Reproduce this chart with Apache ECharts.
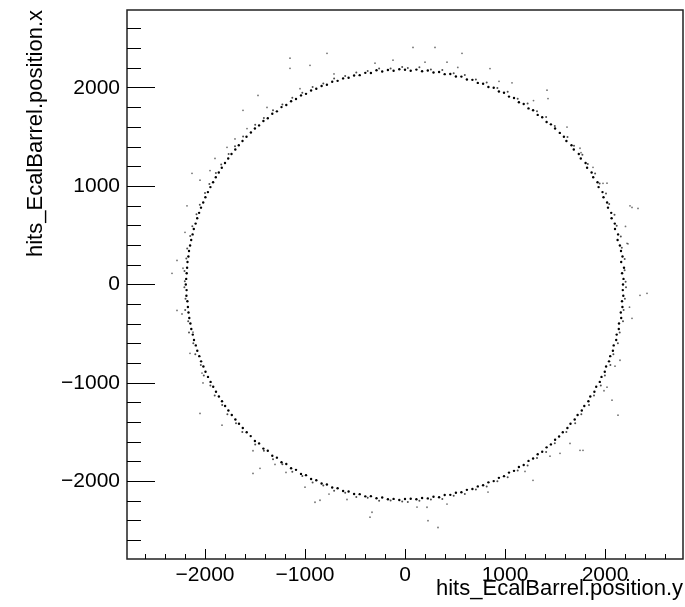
<!DOCTYPE html>
<html>
<head>
<meta charset="utf-8">
<script src="https://cdn.jsdelivr.net/npm/echarts@6/dist/echarts.min.js"></script>
<style>
html, body { margin: 0; padding: 0; background: #fff; }
#chart { width: 685px; height: 607px; }
</style>
</head>
<body>
<div id="chart"></div>
<script>
const xTitle = 'hits_EcalBarrel.position.y'
const yTitle = 'hits_EcalBarrel.position.x'
const xRange = [-2780, 2780]
const yRange = [-2790, 2790]
const majorTicks = [-2000, -1000, 0, 1000, 2000]
const minorTicks = [-2600, -2400, -2200, -1800, -1600, -1400, -1200, -800, -600, -400, -200,
  200, 400, 600, 800, 1200, 1400, 1600, 1800, 2200, 2400, 2600]

// [position.y, position.x]: the dense ring
const ringHits = [
  [2180,0],[2185,57],[2171,114],[2190,171],[2162,228],[2175,285],[2160,341],[2149,397],[2126,453],[2131,509],[2100,564],[2098,619],[2066,674],[2062,728],[2030,781],[2021,834],[1985,887],[1975,939],[1936,990],[1925,1040],[1882,1090],[1866,1139],[1821,1187],[1806,1235],[1758,1281],[1738,1327],[1688,1372],[1665,1416],[1614,1459],[1589,1501],[1548,1541],
  [1501,1585],[1459,1628],[1416,1652],[1372,1700],[1327,1724],[1281,1771],[1235,1790],[1187,1835],[1139,1853],[1090,1895],[1040,1910],[990,1949],[939,1962],[887,1999],[834,2008],[781,2041],[728,2049],[674,2080],[619,2084],[564,2113],[509,2114],[453,2139],[397,2138],[341,2160],[285,2155],[228,2175],[171,2167],[114,2184],[57,2173],
  [0,2182],[-57,2188],[-114,2172],[-171,2180],[-228,2165],[-285,2178],[-341,2150],[-397,2151],[-453,2128],[-509,2125],[-564,2102],[-619,2095],[-674,2070],[-728,2060],[-781,2031],[-834,2018],[-887,1989],[-939,1972],[-990,1938],[-1040,1922],[-1090,1885],[-1139,1863],[-1187,1825],[-1235,1803],[-1281,1760],[-1327,1735],[-1372,1690],[-1416,1662],[-1459,1617],[-1501,1586],[-1541,1545],
  [-1585,1501],[-1625,1459],[-1662,1416],[-1697,1372],[-1735,1327],[-1768,1281],[-1800,1235],[-1832,1187],[-1862,1139],[-1892,1090],[-1919,1040],[-1946,990],[-1971,939],[-1996,887],[-2018,834],[-2040,781],[-2059,728],[-2078,674],[-2094,619],[-2112,564],[-2124,509],[-2138,453],[-2149,397],[-2160,341],[-2166,285],[-2175,228],[-2179,171],[-2183,114],[-2188,57],
  [-2192,0],[-2184,-57],[-2186,-114],[-2176,-171],[-2171,-228],[-2165,-285],[-2157,-341],[-2146,-397],[-2137,-453],[-2122,-509],[-2110,-564],[-2092,-619],[-2077,-674],[-2057,-728],[-2039,-781],[-2016,-834],[-1995,-887],[-1970,-939],[-1944,-990],[-1918,-1040],[-1890,-1090],[-1861,-1139],[-1830,-1187],[-1799,-1235],[-1766,-1281],[-1732,-1327],[-1696,-1372],[-1660,-1416],[-1622,-1459],[-1583,-1501],[-1543,-1541],
  [-1501,-1590],[-1459,-1615],[-1416,-1668],[-1372,-1690],[-1327,-1740],[-1281,-1760],[-1235,-1806],[-1187,-1824],[-1139,-1868],[-1090,-1884],[-1040,-1925],[-990,-1938],[-939,-1977],[-887,-1989],[-834,-2023],[-781,-2033],[-728,-2064],[-674,-2071],[-619,-2099],[-564,-2104],[-509,-2129],[-453,-2131],[-397,-2153],[-341,-2151],[-285,-2172],[-228,-2165],[-171,-2183],[-114,-2179],[-57,-2190],
  [0,-2180],[57,-2178],[114,-2183],[171,-2170],[228,-2174],[285,-2158],[341,-2162],[397,-2140],[453,-2138],[509,-2117],[564,-2112],[619,-2087],[674,-2079],[728,-2052],[781,-2040],[834,-2011],[887,-1998],[939,-1965],[990,-1948],[1040,-1912],[1090,-1894],[1139,-1855],[1187,-1834],[1235,-1793],[1281,-1768],[1327,-1725],[1372,-1700],[1416,-1655],[1459,-1625],[1501,-1578],[1541,-1545],
  [1578,-1501],[1624,-1459],[1655,-1416],[1697,-1372],[1726,-1327],[1768,-1281],[1793,-1235],[1834,-1187],[1853,-1139],[1894,-1090],[1912,-1040],[1948,-990],[1965,-939],[1998,-887],[2011,-834],[2040,-781],[2052,-728],[2079,-674],[2087,-619],[2112,-564],[2117,-509],[2138,-453],[2140,-397],[2162,-341],[2158,-285],[2174,-228],[2170,-171],[2183,-114],[2178,-57]
]

// hits just outside the ring
const haloHits = [
  [2206,28],[2196,144],[2197,259],[2168,373],[2158,487],[2117,598],[2095,709],[2042,817],[2010,924],[1946,1027],[1901,1127],[1828,1226],[1774,1320],[1690,1411],[1625,1498],
  [1498,1612],[1411,1702],[1320,1762],[1226,1840],[1127,1889],[1027,1958],[924,1998],[817,2054],[709,2083],[598,2129],[487,2146],[373,2180],[259,2185],[144,2207],[28,2201],
  [-28,2210],[-144,2196],[-259,2195],[-373,2170],[-487,2156],[-598,2119],[-709,2093],[-817,2044],[-924,2008],[-1027,1948],[-1127,1899],[-1226,1830],[-1320,1772],[-1411,1692],[-1498,1623],
  [-1619,1505],[-1700,1405],[-1764,1326],[-1838,1220],[-1891,1133],[-1956,1021],[-2000,930],[-2052,811],[-2085,715],[-2127,592],[-2148,493],[-2178,367],[-2187,265],[-2205,138],[-2202,34],
  [-2206,-28],[-2195,-144],[-2198,-259],[-2168,-373],[-2160,-487],[-2117,-598],[-2097,-709],[-2042,-817],[-2012,-924],[-1946,-1027],[-1903,-1127],[-1828,-1226],[-1776,-1320],[-1690,-1411],[-1627,-1498],
  [-1498,-1627],[-1411,-1690],[-1320,-1776],[-1226,-1828],[-1127,-1903],[-1027,-1946],[-924,-2012],[-817,-2042],[-709,-2097],[-598,-2117],[-487,-2160],[-373,-2168],[-259,-2198],[-144,-2195],[-28,-2206],
  [28,-2210],[144,-2199],[259,-2186],[373,-2180],[487,-2147],[598,-2129],[709,-2084],[817,-2054],[924,-1999],[1027,-1958],[1127,-1890],[1226,-1840],[1320,-1763],[1411,-1702],[1498,-1614],
  [1614,-1498],[1702,-1411],[1763,-1320],[1840,-1226],[1890,-1127],[1958,-1027],[1999,-924],[2054,-817],[2084,-709],[2129,-598],[2147,-487],[2180,-373],[2186,-259],[2199,-144],[2210,-28]
]

// scattered hits further out
const strayHits = [
  [80,2410],[300,2410],[570,2350],[850,2195],[1420,1975],[1430,1890],[1620,1600],[2250,800],[1070,2050],[420,2260],[200,2260],[-120,2280],[1750,1385],
  [-1150,2300],[-1150,2197],[-950,2228],[-780,2350],[-1470,1922],[-1620,1770],[-1900,1281],[-2130,1130],[-2050,1060],[-1780,1394],[-1580,1585],
  [-2330,114],[-2280,-264],[-2220,165],[-2180,800],[-2050,-1310],[-1830,-1430],[-2020,-1000],[-2120,-485],[-2280,245],
  [-1520,-1920],[-1450,-1868],[-1000,-2060],[-900,-2213],[-850,-2193],[-350,-2365],[-330,-2315],[-1300,-1829],[-580,-2185],
  [230,-2400],[330,-2470],[220,-2264],[1280,-1990],[1750,-1685],[1550,-1716],[1650,-1615],
  [2420,-90],[2350,-110],[2270,-344],[2150,-770],[2070,-1176],[2130,-1328],[2020,-1044],[1780,-1685],
  [2270,783],[2330,773],[1880,1191],[1980,1028],[2220,419],
  [2230,413],[2020,1030],[1285,1869],[528,2206],[-710,2140],[-1380,1800],[-1950,1158],[-2200,530],[-2230,-300],[-2030,-900],
  [-1520,-1690],[-760,-2130],[120,-2262],[830,-2110],[1450,-1745],[1990,-1080],[2245,-230],[2205,590],[1760,1340],[940,2065],
  [-300,2250],[-1050,1990],[-1700,1480],[-2150,-700],[-1190,-1910],[420,-2232],[1200,-1900],[2100,-830]
]

const font = "'Liberation Sans', Arial, Helvetica, sans-serif"
const fmt = v => (v < 0 ? '\u2212' + Math.abs(v) : String(v))

const chart = echarts.init(document.getElementById('chart'), null, { renderer: 'canvas' })

function axisPair(range, majorLen, minorLen, labelMargin) {
  return [
    {
      type: 'value',
      min: range[0],
      max: range[1],
      axisLine: { show: false, onZero: false },
      splitLine: { show: false },
      axisTick: {
        inside: true,
        length: majorLen,
        customValues: majorTicks,
        lineStyle: { color: '#000', width: 1 }
      },
      axisLabel: {
        customValues: majorTicks,
        formatter: fmt,
        margin: labelMargin,
        color: '#000',
        fontFamily: font,
        fontSize: 21
      }
    },
    {
      type: 'value',
      min: range[0],
      max: range[1],
      axisLine: { show: false, onZero: false },
      splitLine: { show: false },
      axisTick: {
        inside: true,
        length: minorLen,
        customValues: minorTicks,
        lineStyle: { color: '#000', width: 1 }
      },
      axisLabel: { show: false }
    }
  ]
}

const xAxes = axisPair(xRange, 10, 5, 6)
xAxes[0].position = 'bottom'
xAxes[1].position = 'bottom'
const yAxes = axisPair(yRange, 28, 14, 7)
yAxes[0].position = 'left'
yAxes[1].position = 'left'

chart.setOption({
  animation: false,
  backgroundColor: '#fff',
  grid: {
    left: 127,
    top: 10,
    width: 556,
    height: 549,
    show: true,
    borderColor: '#222',
    borderWidth: 1.5,
    backgroundColor: 'transparent'
  },
  xAxis: xAxes,
  yAxis: yAxes,
  series: [
    {
      type: 'scatter',
      data: strayHits,
      symbol: 'circle',
      symbolSize: 1.8,
      itemStyle: { color: '#000', opacity: 0.55 }
    },
    {
      type: 'scatter',
      data: haloHits,
      symbol: 'circle',
      symbolSize: 2,
      itemStyle: { color: '#000', opacity: 0.7 }
    },
    {
      type: 'scatter',
      data: ringHits,
      symbol: 'circle',
      symbolSize: 2.4,
      itemStyle: { color: '#000', opacity: 1 }
    }
  ],
  graphic: [
    {
      type: 'text',
      right: 2,
      top: 578,
      style: { text: xTitle, font: '22px ' + font, fill: '#000' }
    },
    {
      type: 'text',
      x: 36,
      y: 10,
      rotation: Math.PI / 2,
      style: {
        text: yTitle,
        font: '22px ' + font,
        fill: '#000',
        align: 'right',
        verticalAlign: 'middle'
      }
    }
  ]
})
</script>
</body>
</html>
